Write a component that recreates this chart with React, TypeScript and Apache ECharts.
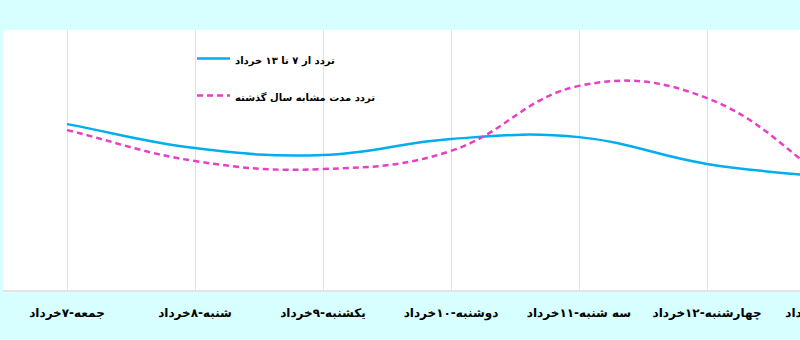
import React, { useEffect, useRef } from "react";
import * as echarts from "echarts";

const categories = [
  "جمعه-۷خرداد",
  "شنبه-۸خرداد",
  "یکشنبه-۹خرداد",
  "دوشنبه-۱۰خرداد",
  "سه شنبه-۱۱خرداد",
  "چهارشنبه-۱۲خرداد",
  "پنجشنبه-۱۳خرداد",
];
const seriesNames = ["تردد از ۷ تا ۱۳ خرداد", "تردد مدت مشابه سال گذشته"];
const thisYear = [63.8, 54.6, 51.9, 58.1, 58.8, 48.5, 43.1];
const lastYear = [61.5, 49.6, 46.5, 53.5, 78.5, 73.8, 40.4];

const BLUE = "#00adef";
const PINK = "#e83fc5";
const TENSION = 0.4;

function splinePath(pts: number[][]): string {
  const n = pts.length;
  const cpPrev: number[][] = [];
  const cpNext: number[][] = [];
  for (let i = 0; i < n; i++) {
    const p = pts[i];
    const a = pts[Math.max(0, i - 1)];
    const b = pts[Math.min(n - 1, i + 1)];
    const d01 = Math.hypot(p[0] - a[0], p[1] - a[1]);
    const d12 = Math.hypot(b[0] - p[0], b[1] - p[1]);
    const sum = d01 + d12 || 1;
    const fa = (TENSION * d01) / sum;
    const fb = (TENSION * d12) / sum;
    cpPrev.push([p[0] - fa * (b[0] - a[0]), p[1] - fa * (b[1] - a[1])]);
    cpNext.push([p[0] + fb * (b[0] - a[0]), p[1] + fb * (b[1] - a[1])]);
  }
  let d = `M${pts[0][0]},${pts[0][1]}`;
  for (let i = 0; i < n - 1; i++) {
    d += ` C${cpNext[i][0]},${cpNext[i][1]} ${cpPrev[i + 1][0]},${cpPrev[i + 1][1]} ${pts[i + 1][0]},${pts[i + 1][1]}`;
  }
  return d;
}

function makeSeries(name: string, values: number[], color: string, dash: number[] | null) {
  return {
    name,
    type: "custom",
    data: values.map((v, i) => [i, v]),
    encode: { x: 0, y: 1 },
    clip: false,
    renderItem: (params: any, api: any) => {
      if (params.dataIndex !== 0) return null;
      const pts = values.map((v, i) => api.coord([i, v]));
      return {
        type: "path",
        shape: { pathData: splinePath(pts) },
        style: {
          fill: "none",
          stroke: color,
          lineWidth: 2.5,
          lineDash: dash || undefined,
        },
      };
    },
  };
}

export default function App() {
  const ref = useRef<HTMLDivElement>(null);
  useEffect(() => {
    if (!ref.current) return;
    const chart = echarts.init(ref.current, undefined, { renderer: "svg" });
    const font = "DejaVu Sans";
    const legendText = {
      fontFamily: font,
      fontWeight: "bold",
      fontSize: 10,
      fill: "#000",
      verticalAlign: "middle",
      align: "left",
    };
    chart.setOption({
      animation: false,
      backgroundColor: "#d7ffff",
      textStyle: { fontFamily: font },
      graphic: [
        {
          type: "rect",
          z: -10,
          silent: true,
          shape: { x: 3, y: 30, width: 900, height: 260 },
          style: { fill: "#ffffff" },
        },
        {
          type: "rect",
          z: -9,
          silent: true,
          shape: { x: 3, y: 290, width: 900, height: 2 },
          style: { fill: "#e4e4e4" },
        },
        {
          type: "line",
          z: 10,
          shape: { x1: 197, y1: 58.5, x2: 230, y2: 58.5 },
          style: { stroke: BLUE, lineWidth: 2.5 },
        },
        {
          type: "text",
          z: 10,
          x: 235,
          y: 60,
          style: { ...legendText, text: seriesNames[0] },
        },
        {
          type: "line",
          z: 10,
          shape: { x1: 197, y1: 95.5, x2: 230, y2: 95.5 },
          style: { stroke: PINK, lineWidth: 2.5, lineDash: [6, 4] },
        },
        {
          type: "text",
          z: 10,
          x: 235,
          y: 97,
          style: { ...legendText, text: seriesNames[1] },
        },
      ],
      grid: { left: 67, right: 65, top: 30, bottom: 50 },
      xAxis: {
        type: "category",
        boundaryGap: false,
        data: categories,
        axisLine: { show: false },
        axisTick: { show: false },
        axisLabel: {
          fontFamily: font,
          fontWeight: "bold",
          fontSize: 12,
          color: "#000",
          margin: 17,
          interval: 0,
        },
        splitLine: { show: true, lineStyle: { color: "#e2e2e2", width: 1 } },
      },
      yAxis: {
        type: "value",
        min: 0,
        max: 100,
        show: false,
        splitLine: { show: false },
      },
      series: [
        makeSeries(seriesNames[0], thisYear, BLUE, null),
        makeSeries(seriesNames[1], lastYear, PINK, [6, 4]),
      ],
    });
    return () => chart.dispose();
  }, []);
  return (
    <div
      style={{
        position: "fixed",
        left: 0,
        top: 0,
        width: 800,
        height: 340,
        overflow: "hidden",
      }}
    >
      <div ref={ref} style={{ width: 900, height: 340 }} />
    </div>
  );
}
